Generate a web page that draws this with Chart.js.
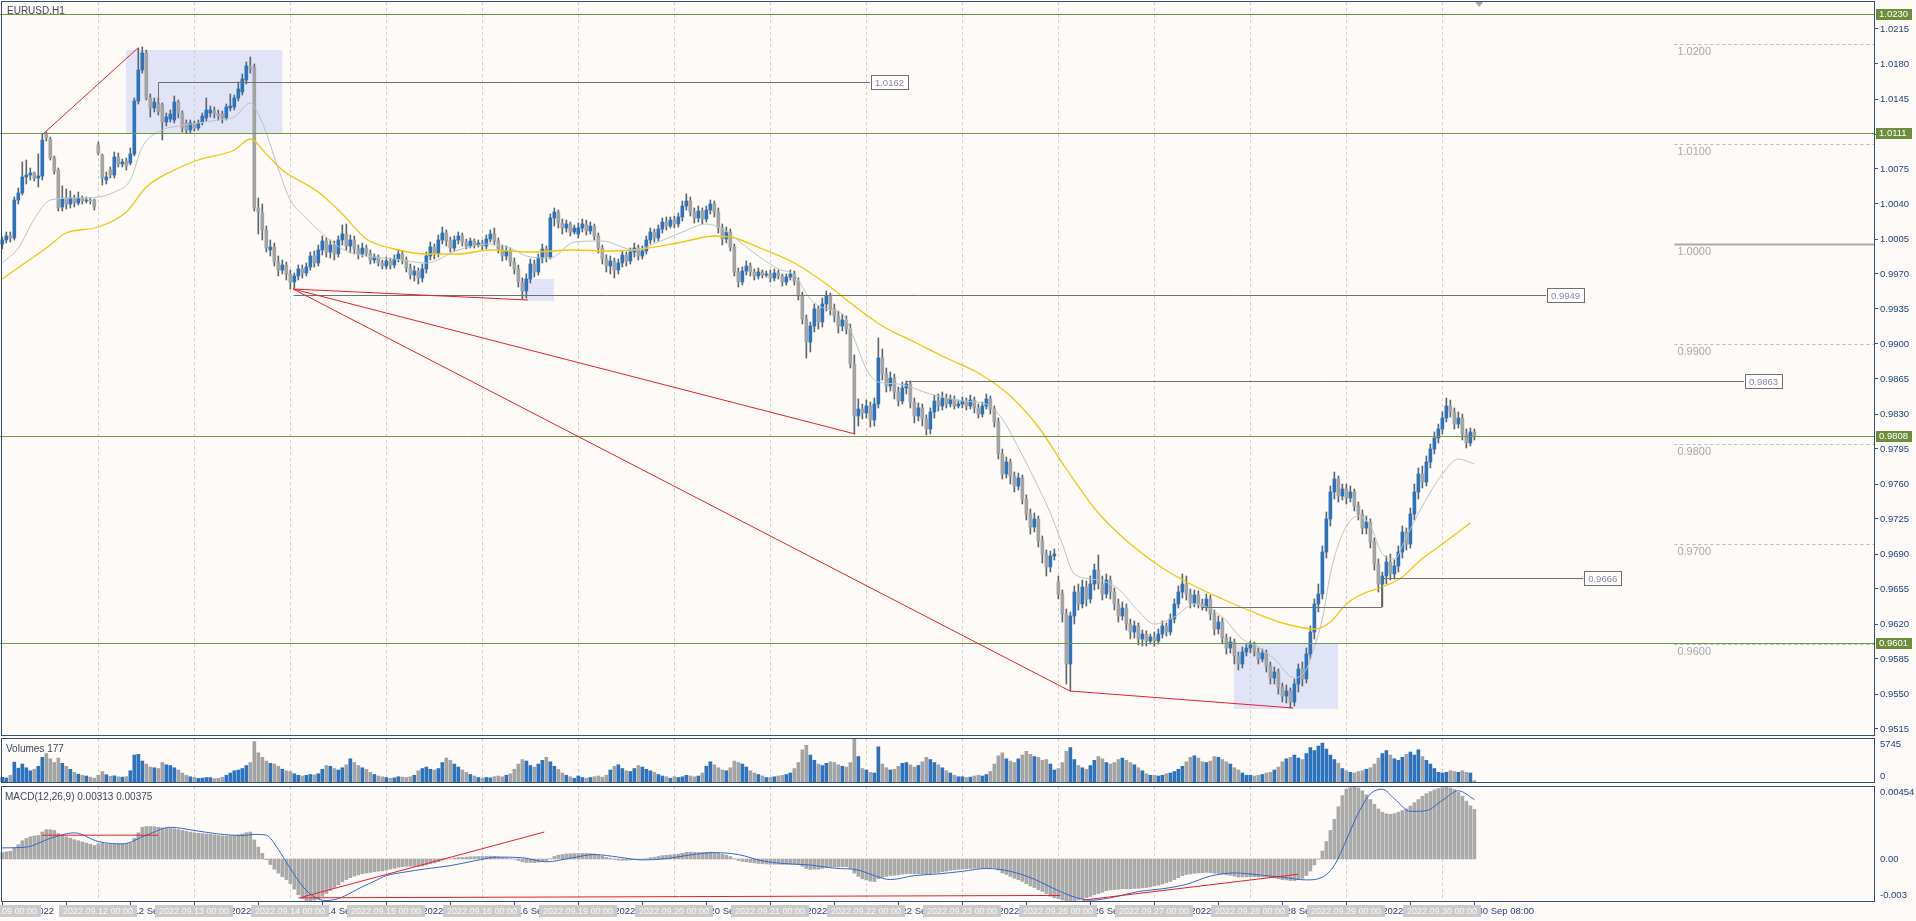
<!DOCTYPE html>
<html lang="en">
<head>
<meta charset="utf-8">
<title>EURUSD.H1</title>
<script src="https://cdn.jsdelivr.net/npm/chart.js@4.4.1/dist/chart.umd.min.js"></script>
<style>
  html, body { margin: 0; padding: 0; background: #fdfaf8; overflow: hidden; }
  #wrap { position: relative; width: 1916px; height: 921px; background: #fdfaf8; }
  #wrap canvas { position: absolute; left: 0; }
</style>
</head>
<body>
<div id="wrap">
  <canvas id="priceChart" width="1916" height="736" style="top:0"></canvas>
  <canvas id="volumeChart" width="1916" height="47" style="top:737px"></canvas>
  <canvas id="macdChart" width="1916" height="137" style="top:784px"></canvas>
</div>
<script>
// trading days shown (H1 bars, 24 per day)
const dayNames = ['9 Sep', '12 Sep', '13 Sep', '14 Sep', '15 Sep', '16 Sep', '19 Sep', '20 Sep',
                  '21 Sep', '22 Sep', '23 Sep', '26 Sep', '27 Sep', '28 Sep', '29 Sep', '30 Sep'];
const dayStamps = ['2022.09.09', '2022.09.12', '2022.09.13', '2022.09.14', '2022.09.15', '2022.09.16',
                   '2022.09.19', '2022.09.20', '2022.09.21', '2022.09.22', '2022.09.23', '2022.09.26',
                   '2022.09.27', '2022.09.28', '2022.09.29', '2022.09.30'];

const priceTicks = [1.0215, 1.0180, 1.0145, 1.0110, 1.0075, 1.0040, 1.0005, 0.9970, 0.9935, 0.9900, 0.9865,
                    0.9830, 0.9795, 0.9760, 0.9725, 0.9690, 0.9655, 0.9620, 0.9585, 0.9550, 0.9515];

const opens = [
  1.0000,1.0004,1.0008,1.0006,1.0044,1.0051,1.0067,1.0069,1.0071,1.0066,1.0068,1.0111,1.0105,1.0086,1.0074,1.0037,1.0046,1.0040,1.0046,1.0041,1.0046,1.0043,1.0044,1.0044,
  1.0099,1.0089,1.0064,1.0074,1.0069,1.0087,1.0080,1.0083,1.0081,1.0090,1.0143,1.0174,1.0191,1.0146,1.0136,1.0141,1.0139,1.0122,1.0125,1.0124,1.0142,1.0131,1.0121,1.0114,
  1.0120,1.0116,1.0122,1.0126,1.0131,1.0133,1.0130,1.0130,1.0126,1.0136,1.0137,1.0146,1.0152,1.0164,1.0178,1.0177,1.0036,1.0031,1.0014,0.9994,0.9997,0.9982,0.9974,0.9979,
  0.9970,0.9962,0.9968,0.9975,0.9971,0.9977,0.9988,0.9981,0.9994,1.0003,0.9992,0.9999,0.9990,1.0004,1.0010,0.9998,1.0004,0.9995,0.9990,0.9996,0.9991,0.9984,0.9987,0.9981,
  0.9978,0.9983,0.9979,0.9985,0.9990,0.9984,0.9976,0.9969,0.9973,0.9966,0.9975,0.9988,0.9997,0.9990,1.0004,1.0011,1.0003,0.9996,1.0004,1.0008,1.0002,0.9998,1.0003,0.9999,
  1.0001,0.9998,1.0005,1.0010,1.0003,0.9995,0.9988,0.9993,0.9982,0.9975,0.9962,0.9953,0.9965,0.9980,0.9972,0.9986,0.9995,0.9987,1.0026,1.0032,1.0021,1.0016,1.0020,1.0012,
  1.0010,1.0016,1.0020,1.0013,1.0018,1.0008,0.9996,0.9985,0.9978,0.9983,0.9974,0.9981,0.9989,0.9983,0.9992,0.9996,0.9988,0.9993,1.0004,1.0012,1.0006,1.0015,1.0022,1.0018,
  1.0024,1.0020,1.0027,1.0038,1.0043,1.0032,1.0026,1.0033,1.0025,1.0034,1.0040,1.0032,1.0016,1.0005,1.0012,0.9997,0.9972,0.9962,0.9973,0.9978,0.9972,0.9968,0.9972,0.9969,
  0.9970,0.9966,0.9971,0.9968,0.9962,0.9967,0.9970,0.9963,0.9948,0.9925,0.9902,0.9918,0.9935,0.9922,0.9940,0.9948,0.9935,0.9928,0.9918,0.9924,0.9915,0.9880,0.9828,0.9835,
  0.9831,0.9838,0.9824,0.9840,0.9886,0.9870,0.9858,0.9866,0.9852,0.9843,0.9856,0.9860,0.9842,0.9828,0.9836,0.9825,0.9815,0.9832,0.9843,0.9838,0.9846,0.9840,0.9845,0.9838,
  0.9840,0.9843,0.9838,0.9844,0.9836,0.9830,0.9838,0.9845,0.9835,0.9822,0.9790,0.9770,0.9782,0.9768,0.9758,0.9766,0.9745,0.9730,0.9717,0.9725,0.9703,0.9690,0.9677,0.9688,
  0.9662,0.9650,0.9630,0.9580,0.9628,0.9652,0.9640,0.9657,0.9645,0.9660,0.9674,0.9660,0.9650,0.9664,0.9652,0.9640,0.9628,0.9636,0.9620,0.9612,0.9618,0.9605,0.9610,0.9603,
  0.9607,0.9603,0.9610,0.9618,0.9612,0.9625,0.9640,0.9652,0.9660,0.9650,0.9641,0.9649,0.9640,0.9637,0.9645,0.9630,0.9615,0.9622,0.9606,0.9596,0.9602,0.9588,0.9580,0.9592,
  0.9596,0.9599,0.9592,0.9585,0.9591,0.9578,0.9566,0.9572,0.9557,0.9548,0.9553,0.9542,0.9560,0.9575,0.9565,0.9590,0.9612,0.9640,0.9650,0.9692,0.9725,0.9752,0.9765,0.9748,
  0.9755,0.9746,0.9752,0.9738,0.9730,0.9716,0.9722,0.9702,0.9680,0.9660,0.9668,0.9682,0.9670,0.9678,0.9692,0.9712,0.9700,0.9730,0.9752,0.9770,0.9762,0.9782,0.9795,0.9806,
  0.9815,0.9826,0.9838,0.9832,0.9820,0.9826,0.9810,0.9801,0.9812
];
const highs = [
  1.0007,1.0012,1.0012,1.0047,1.0056,1.0082,1.0084,1.0076,1.0072,1.0090,1.0110,1.0112,1.0107,1.0088,1.0076,1.0058,1.0055,1.0053,1.0049,1.0052,1.0048,1.0047,1.0046,1.0045,
  1.0102,1.0090,1.0072,1.0077,1.0092,1.0091,1.0085,1.0086,1.0096,1.0146,1.0196,1.0197,1.0194,1.0150,1.0146,1.0146,1.0141,1.0131,1.0134,1.0148,1.0144,1.0133,1.0124,1.0124,
  1.0123,1.0124,1.0131,1.0146,1.0138,1.0137,1.0134,1.0133,1.0140,1.0150,1.0149,1.0162,1.0170,1.0182,1.0187,1.0180,1.0046,1.0040,1.0018,1.0004,1.0001,0.9988,0.9984,0.9982,
  0.9974,0.9971,0.9979,0.9979,0.9981,0.9992,0.9993,0.9999,1.0008,1.0006,1.0004,1.0003,1.0008,1.0019,1.0020,1.0009,1.0008,0.9999,1.0001,0.9999,0.9994,0.9990,0.9989,0.9984,
  0.9987,0.9986,0.9989,0.9994,0.9993,0.9987,0.9980,0.9978,0.9976,0.9980,0.9992,1.0002,1.0000,1.0009,1.0017,1.0014,1.0007,1.0008,1.0012,1.0011,1.0005,1.0006,1.0005,1.0004,
  1.0004,1.0009,1.0014,1.0016,1.0006,0.9999,0.9998,0.9996,0.9986,0.9979,0.9966,0.9970,0.9985,0.9984,0.9990,1.0000,0.9998,1.0030,1.0036,1.0034,1.0025,1.0024,1.0022,1.0019,
  1.0021,1.0025,1.0024,1.0022,1.0020,1.0011,0.9999,0.9989,0.9988,0.9986,0.9985,0.9993,0.9992,0.9996,1.0001,0.9999,0.9998,1.0008,1.0016,1.0015,1.0019,1.0026,1.0027,1.0027,
  1.0028,1.0031,1.0043,1.0050,1.0047,1.0036,1.0038,1.0036,1.0038,1.0044,1.0043,1.0036,1.0020,1.0017,1.0015,1.0000,0.9976,0.9977,0.9983,0.9981,0.9975,0.9976,0.9974,0.9973,
  0.9974,0.9975,0.9974,0.9970,0.9970,0.9974,0.9973,0.9966,0.9952,0.9929,0.9922,0.9940,0.9938,0.9946,0.9953,0.9951,0.9940,0.9933,0.9930,0.9928,0.9920,0.9889,0.9845,0.9840,
  0.9844,0.9842,0.9846,0.9906,0.9895,0.9876,0.9872,0.9870,0.9857,0.9862,0.9863,0.9863,0.9846,0.9841,0.9840,0.9829,0.9836,0.9849,0.9850,0.9852,0.9850,0.9849,0.9848,0.9844,
  0.9847,0.9846,0.9849,0.9847,0.9840,0.9842,0.9850,0.9848,0.9838,0.9826,0.9795,0.9787,0.9785,0.9772,0.9771,0.9769,0.9749,0.9735,0.9731,0.9728,0.9708,0.9694,0.9693,0.9695,
  0.9668,0.9654,0.9635,0.9632,0.9658,0.9660,0.9664,0.9663,0.9668,0.9680,0.9689,0.9668,0.9670,0.9668,0.9656,0.9645,0.9642,0.9640,0.9625,0.9623,0.9621,0.9614,0.9613,0.9610,
  0.9612,0.9615,0.9623,0.9621,0.9630,0.9645,0.9658,0.9670,0.9668,0.9655,0.9654,0.9653,0.9645,0.9650,0.9649,0.9634,0.9628,0.9626,0.9610,0.9607,0.9605,0.9592,0.9597,0.9600,
  0.9603,0.9602,0.9596,0.9595,0.9594,0.9582,0.9577,0.9575,0.9561,0.9559,0.9556,0.9565,0.9580,0.9582,0.9596,0.9618,0.9645,0.9660,0.9698,0.9732,0.9758,0.9772,0.9768,0.9760,
  0.9760,0.9758,0.9755,0.9742,0.9734,0.9728,0.9725,0.9706,0.9685,0.9672,0.9688,0.9690,0.9684,0.9698,0.9718,0.9716,0.9736,0.9760,0.9776,0.9778,0.9788,0.9800,0.9812,0.9820,
  0.9832,0.9846,0.9844,0.9836,0.9832,0.9830,0.9815,0.9816,0.9815
];
const lows = [
  0.9995,1.0001,1.0002,1.0004,1.0040,1.0049,1.0060,1.0064,1.0063,1.0057,1.0064,1.0103,1.0084,1.0070,1.0033,1.0033,1.0035,1.0036,1.0037,1.0039,1.0040,1.0041,1.0040,1.0034,
  1.0089,1.0059,1.0060,1.0066,1.0066,1.0077,1.0077,1.0074,1.0079,1.0088,1.0140,1.0171,1.0144,1.0127,1.0132,1.0129,1.0104,1.0118,1.0122,1.0121,1.0126,1.0112,1.0111,1.0111,
  1.0113,1.0114,1.0119,1.0123,1.0127,1.0126,1.0124,1.0121,1.0124,1.0133,1.0134,1.0143,1.0149,1.0160,1.0171,1.0033,1.0010,1.0004,0.9992,0.9988,0.9978,0.9968,0.9970,0.9964,
  0.9955,0.9956,0.9964,0.9966,0.9968,0.9974,0.9977,0.9978,0.9989,0.9987,0.9986,0.9984,0.9987,0.9999,0.9994,0.9991,0.9990,0.9985,0.9987,0.9988,0.9980,0.9981,0.9978,0.9975,
  0.9975,0.9975,0.9976,0.9982,0.9980,0.9972,0.9965,0.9963,0.9960,0.9962,0.9971,0.9984,0.9985,0.9987,1.0000,0.9998,0.9992,0.9993,1.0000,0.9998,0.9995,0.9996,0.9996,0.9997,
  0.9994,0.9995,1.0002,0.9999,0.9991,0.9983,0.9984,0.9978,0.9970,0.9957,0.9945,0.9946,0.9961,0.9967,0.9969,0.9981,0.9982,0.9985,1.0018,1.0016,1.0010,1.0012,1.0008,1.0010,
  1.0006,1.0012,1.0009,1.0010,1.0004,0.9991,0.9980,0.9972,0.9970,0.9966,0.9970,0.9977,0.9978,0.9980,0.9987,0.9984,0.9985,0.9990,1.0000,1.0002,1.0003,1.0011,1.0014,1.0016,
  1.0016,1.0017,1.0023,1.0034,1.0028,1.0021,1.0022,1.0020,1.0022,1.0030,1.0027,1.0011,0.9999,1.0001,0.9993,0.9968,0.9957,0.9959,0.9969,0.9968,0.9964,0.9965,0.9966,0.9967,
  0.9962,0.9963,0.9965,0.9958,0.9959,0.9964,0.9959,0.9944,0.9920,0.9886,0.9892,0.9912,0.9915,0.9917,0.9933,0.9929,0.9922,0.9911,0.9913,0.9910,0.9876,0.9810,0.9818,0.9825,
  0.9826,0.9817,0.9818,0.9836,0.9864,0.9852,0.9853,0.9845,0.9838,0.9840,0.9850,0.9836,0.9821,0.9823,0.9818,0.9809,0.9810,0.9826,0.9833,0.9834,0.9836,0.9837,0.9835,0.9836,
  0.9836,0.9834,0.9835,0.9831,0.9826,0.9827,0.9835,0.9830,0.9817,0.9785,0.9765,0.9766,0.9760,0.9752,0.9754,0.9740,0.9724,0.9710,0.9712,0.9697,0.9681,0.9668,0.9672,0.9684,
  0.9645,0.9622,0.9560,0.9553,0.9620,0.9634,0.9636,0.9638,0.9641,0.9654,0.9655,0.9644,0.9646,0.9645,0.9634,0.9622,0.9624,0.9614,0.9605,0.9606,0.9599,0.9598,0.9598,0.9600,
  0.9598,0.9600,0.9606,0.9608,0.9609,0.9621,0.9636,0.9646,0.9644,0.9636,0.9637,0.9636,0.9634,0.9633,0.9624,0.9609,0.9610,0.9600,0.9590,0.9591,0.9580,0.9574,0.9576,0.9588,
  0.9591,0.9588,0.9580,0.9582,0.9572,0.9560,0.9560,0.9550,0.9542,0.9541,0.9536,0.9538,0.9552,0.9558,0.9561,0.9585,0.9605,0.9632,0.9645,0.9686,0.9718,0.9745,0.9742,0.9744,
  0.9740,0.9742,0.9733,0.9724,0.9710,0.9710,0.9696,0.9674,0.9652,0.9637,0.9660,0.9664,0.9665,0.9672,0.9686,0.9694,0.9696,0.9724,0.9745,0.9756,0.9758,0.9776,0.9790,0.9801,
  0.9810,0.9822,0.9827,0.9815,0.9816,0.9804,0.9796,0.9798,0.9804
];
const closes = [
  1.0004,1.0008,1.0006,1.0044,1.0051,1.0067,1.0069,1.0071,1.0066,1.0068,1.0104,1.0106,1.0086,1.0073,1.0036,1.0045,1.0040,1.0046,1.0041,1.0046,1.0043,1.0044,1.0043,1.0037,
  1.0091,1.0066,1.0067,1.0069,1.0087,1.0080,1.0082,1.0078,1.0090,1.0143,1.0174,1.0191,1.0146,1.0136,1.0142,1.0132,1.0122,1.0127,1.0130,1.0142,1.0131,1.0116,1.0114,1.0121,
  1.0116,1.0121,1.0128,1.0134,1.0134,1.0130,1.0128,1.0126,1.0137,1.0138,1.0146,1.0155,1.0165,1.0178,1.0175,1.0036,1.0032,1.0014,0.9996,0.9997,0.9982,0.9974,0.9979,0.9970,
  0.9962,0.9968,0.9975,0.9971,0.9977,0.9988,0.9981,0.9994,1.0003,0.9992,0.9999,0.9990,1.0004,1.0010,0.9998,1.0004,0.9995,0.9990,0.9996,0.9991,0.9984,0.9987,0.9981,0.9978,
  0.9983,0.9979,0.9985,0.9990,0.9984,0.9976,0.9969,0.9973,0.9966,0.9975,0.9988,0.9997,0.9990,1.0004,1.0011,1.0003,0.9996,1.0004,1.0008,1.0002,0.9998,1.0003,0.9999,1.0001,
  0.9998,1.0005,1.0010,1.0003,0.9995,0.9988,0.9993,0.9982,0.9975,0.9962,0.9953,0.9965,0.9980,0.9972,0.9986,0.9995,0.9987,1.0026,1.0032,1.0021,1.0016,1.0020,1.0012,1.0016,
  1.0016,1.0020,1.0013,1.0018,1.0008,0.9996,0.9985,0.9978,0.9983,0.9974,0.9981,0.9989,0.9983,0.9992,0.9996,0.9988,0.9993,1.0004,1.0012,1.0006,1.0015,1.0022,1.0018,1.0024,
  1.0020,1.0027,1.0038,1.0043,1.0032,1.0026,1.0033,1.0025,1.0034,1.0040,1.0032,1.0016,1.0005,1.0012,0.9997,0.9972,0.9962,0.9973,0.9978,0.9972,0.9968,0.9972,0.9969,0.9970,
  0.9966,0.9971,0.9968,0.9962,0.9967,0.9970,0.9963,0.9948,0.9925,0.9902,0.9918,0.9935,0.9922,0.9940,0.9948,0.9935,0.9928,0.9918,0.9924,0.9915,0.9880,0.9828,0.9835,0.9831,
  0.9838,0.9824,0.9840,0.9886,0.9870,0.9858,0.9866,0.9852,0.9843,0.9856,0.9860,0.9842,0.9828,0.9836,0.9825,0.9815,0.9832,0.9843,0.9838,0.9846,0.9840,0.9845,0.9838,0.9840,
  0.9843,0.9838,0.9844,0.9836,0.9830,0.9838,0.9845,0.9835,0.9822,0.9790,0.9770,0.9782,0.9768,0.9758,0.9766,0.9745,0.9730,0.9717,0.9725,0.9703,0.9690,0.9677,0.9688,0.9690,
  0.9650,0.9630,0.9580,0.9628,0.9652,0.9640,0.9657,0.9645,0.9660,0.9674,0.9660,0.9650,0.9664,0.9652,0.9640,0.9628,0.9636,0.9620,0.9612,0.9618,0.9605,0.9610,0.9603,0.9607,
  0.9603,0.9610,0.9618,0.9612,0.9625,0.9640,0.9652,0.9660,0.9650,0.9641,0.9649,0.9640,0.9637,0.9645,0.9630,0.9615,0.9622,0.9606,0.9596,0.9602,0.9588,0.9580,0.9592,0.9596,
  0.9599,0.9592,0.9585,0.9591,0.9578,0.9566,0.9572,0.9557,0.9548,0.9553,0.9542,0.9560,0.9575,0.9565,0.9590,0.9612,0.9640,0.9650,0.9692,0.9725,0.9752,0.9765,0.9748,0.9755,
  0.9746,0.9752,0.9738,0.9730,0.9716,0.9722,0.9702,0.9680,0.9660,0.9668,0.9682,0.9670,0.9678,0.9692,0.9712,0.9700,0.9730,0.9752,0.9770,0.9762,0.9782,0.9795,0.9806,0.9815,
  0.9826,0.9838,0.9832,0.9820,0.9826,0.9810,0.9801,0.9812,0.9808
];

// tick volumes per bar
const volumes = [
  620,540,880,2650,1850,2400,1900,1500,1700,2100,3300,3800,3100,2600,3200,2500,2100,1700,1300,1050,900,800,650,520,
  900,1400,980,760,820,700,650,720,1500,3600,3700,2800,2400,2000,1900,1800,2600,2300,2200,1900,1600,1200,900,700,
  620,480,520,600,580,450,500,640,900,1200,1500,1600,1800,2200,2600,5400,3900,3300,2800,2500,2400,2100,1700,1500,
  1400,1100,900,800,900,1000,950,1100,1700,2200,2100,1800,1600,1900,2300,3100,2600,2200,1900,1700,1300,1000,800,700,
  600,500,550,700,650,600,700,900,1500,1800,2000,1700,1600,1800,2600,3200,2900,2400,2000,1600,1300,1000,800,600,
  500,600,550,700,800,700,900,1100,1700,2400,3000,2800,2200,2000,2400,2900,3300,2700,2100,1700,1200,900,700,500,
  800,600,500,600,700,800,650,900,1600,2100,2300,1800,1500,1400,1800,2200,2000,1700,1500,1300,1000,800,700,500,
  700,600,700,900,800,700,800,1200,2100,2700,2300,1900,1600,1500,1900,2800,2600,2400,2000,1500,1200,1000,800,600,
  600,700,800,900,1000,1200,1800,2600,4300,4900,3600,2900,2400,2200,2500,2700,2600,2300,2100,2000,2600,5745,3400,1800,
  1600,1300,1200,4700,2400,1900,1600,1700,2100,2500,2600,2300,2000,2200,2700,3300,3000,2600,2300,1900,1500,1200,900,700,
  700,600,650,800,900,800,1000,1400,2400,3500,3900,3100,2800,2600,3100,3600,4100,3700,3400,3300,2900,3000,2400,1600,
  1800,2600,4100,4600,3000,2200,1900,1700,2200,2900,3400,3100,2600,2400,2600,3000,3200,2900,2600,2300,1900,1500,1100,900,
  900,800,900,1100,1200,1400,1700,2100,2700,3300,3500,3200,2700,2600,2800,3400,3300,3000,2700,2400,1900,1600,1200,900,
  900,800,900,1000,1200,1300,1600,2000,2700,3100,3300,3600,3200,3000,3800,4600,4200,4800,5200,4400,3600,3000,2500,1800,
  1500,1300,1200,1400,1500,1700,1900,2400,3200,3800,4200,3600,3100,2900,3300,3700,4000,3600,4300,3400,2900,2400,1800,1300,
  1200,1300,1500,1400,1300,1500,1300,1200,177
];

// MACD(12,26,9) main line per bar, in units of 0.00001
const macdMain = [
  40,45,48,70,90,115,130,140,145,148,170,185,185,180,160,150,140,132,122,115,108,100,93,85,
  95,100,95,92,95,96,97,96,100,130,165,200,205,205,203,200,196,193,192,190,186,180,175,170,
  165,162,160,158,156,152,148,145,145,145,148,152,158,166,170,120,75,35,-5,-35,-65,-90,-112,-130,
  -155,-190,-225,-250,-262,-265,-260,-250,-236,-218,-198,-180,-162,-145,-130,-118,-108,-100,-93,-88,-84,-80,-77,-75,
  -70,-64,-58,-52,-48,-46,-46,-46,-47,-44,-38,-30,-25,-17,-8,-2,1,5,8,10,12,14,15,16,
  16,17,18,17,14,10,7,3,-2,-10,-18,-22,-22,-23,-20,-15,-12,2,16,24,28,32,33,34,
  34,35,35,34,32,26,18,10,4,-3,-7,-8,-8,-6,-4,-4,-3,2,8,11,16,21,23,26,
  27,30,36,42,43,42,41,41,42,43,42,37,29,24,15,2,-10,-15,-18,-22,-25,-28,-30,-31,
  -33,-33,-33,-34,-33,-32,-33,-36,-46,-60,-66,-64,-64,-60,-54,-51,-50,-50,-48,-49,-60,-90,-110,-125,
  -132,-140,-142,-125,-115,-110,-104,-102,-100,-96,-92,-92,-94,-93,-95,-97,-94,-88,-85,-80,-76,-72,-69,-66,
  -64,-62,-60,-59,-59,-58,-56,-55,-57,-70,-88,-98,-110,-122,-130,-142,-156,-170,-180,-194,-205,-218,-235,-245,
  -250,-258,-270,-268,-262,-258,-250,-244,-236,-226,-218,-210,-200,-195,-192,-190,-188,-188,-188,-186,-185,-182,-180,-176,
  -170,-165,-158,-150,-142,-130,-118,-105,-98,-94,-90,-88,-86,-84,-86,-90,-91,-95,-100,-103,-108,-114,-114,-113,
  -112,-112,-113,-112,-114,-118,-120,-125,-130,-132,-136,-136,-130,-122,-104,-76,-38,-2,50,110,180,250,330,400,
  440,450,454,448,430,405,375,345,315,295,285,282,286,295,306,316,334,355,375,395,412,425,436,444,
  450,452,448,438,420,395,365,335,313
];
// signal line, read at [bar, value x 0.00001]
const macdSignal = [
  [0,70],[6,75],[12,130],[18,165],[24,110],[30,95],[36,150],[42,200],[48,180],[54,158],[60,148],[63,155],
  [66,150],[69,60],[72,-60],[75,-170],[78,-240],[81,-262],[84,-250],[87,-215],[90,-175],[93,-140],[96,-105],
  [100,-85],[106,-62],[112,-42],[118,-12],[124,12],[130,8],[136,-18],[142,5],[148,28],[154,12],[160,-6],
  [166,2],[172,26],[178,40],[184,28],[190,-12],[196,-30],[202,-38],[208,-58],[214,-70],[218,-105],[222,-130],
  [228,-105],[234,-94],[240,-78],[246,-60],[252,-78],[258,-128],[264,-200],[268,-240],[272,-260],[278,-240],
  [284,-205],[290,-188],[296,-160],[302,-108],[308,-88],[314,-100],[320,-115],[326,-132],[330,-115],[333,-40],
  [336,120],[339,290],[342,410],[345,440],[348,380],[352,300],[356,305],[360,370],[364,430],[368,375]
];

// moving averages read at [bar, price]
const fastMa = [
  [0,0.9981],[4,0.9996],[8,1.0025],[12,1.0044],[18,1.0046],[24,1.0047],[28,1.0052],[32,1.0064],[35,1.0097],
  [40,1.0114],[44,1.0118],[49,1.0121],[54,1.0124],[58,1.0127],[62,1.0141],[64,1.0130],[66,1.0111],[69,1.0075],
  [72,1.0044],[76,1.0026],[79,1.0014],[85,0.9995],[91,0.9988],[98,0.9985],[106,0.9981],[114,0.9994],[122,1.0000],
  [128,0.9994],[131,0.9988],[137,0.9986],[143,1.0002],[150,1.0003],[158,0.9994],[164,1.0002],[170,1.0012],
  [176,1.0020],[180,1.0015],[185,1.0000],[189,0.9988],[194,0.9975],[198,0.9969],[202,0.9945],[206,0.9935],
  [210,0.9930],[213,0.9905],[216,0.9875],[219,0.9862],[224,0.9860],[232,0.9850],[240,0.9843],[246,0.9840],
  [250,0.9825],[253,0.9804],[258,0.9765],[262,0.9731],[265,0.9700],[268,0.9670],[274,0.9664],[279,0.9655],
  [284,0.9633],[288,0.9620],[293,0.9627],[298,0.9640],[305,0.9627],[310,0.9605],[314,0.9597],[318,0.9585],
  [323,0.9566],[326,0.9575],[328,0.9597],[330,0.9625],[332,0.9670],[335,0.9710],[339,0.9728],[342,0.9718],
  [345,0.9690],[348,0.9685],[351,0.9707],[355,0.9738],[360,0.9770],[364,0.9785],[368,0.9780]
];
const slowMa = [
  [0,0.9965],[6,0.9982],[11,0.9996],[16,1.0011],[24,1.0017],[31,1.0032],[36,1.0057],[43,1.0074],[49,1.0084],
  [58,1.0094],[62,1.0105],[66,1.0090],[70,1.0074],[79,1.0052],[85,1.0030],[91,1.0005],[98,0.9995],[106,0.9990],
  [114,0.9990],[122,0.9994],[132,0.9992],[143,0.9994],[152,0.9993],[160,0.9995],[170,1.0002],[178,1.0008],
  [183,1.0006],[190,0.9995],[198,0.9981],[206,0.9960],[213,0.9938],[220,0.9918],[228,0.9902],[236,0.9886],
  [244,0.9871],[252,0.9848],[259,0.9817],[266,0.9775],[274,0.9731],[282,0.9700],[290,0.9676],[298,0.9658],
  [305,0.9645],[312,0.9633],[320,0.9621],[328,0.9615],[332,0.9622],[336,0.9640],[340,0.9650],[345,0.9657],
  [350,0.9667],[354,0.9682],[360,0.9700],[367,0.9721]
];

const keyLevels = [1.0230, 1.0111, 0.9808, 0.9601];
const roundLevels = [1.0200, 1.0100, 1.0000, 0.9900, 0.9800, 0.9700, 0.9600];

// drawn objects, anchored at [bar, price]
const zones = [
  { from: 30.9, to: 70.0, hi: 1.0194, lo: 1.0111 },
  { from: 130.2, to: 137.9, hi: 0.9965, lo: 0.9943 },
  { from: 307.9, to: 333.9, hi: 0.9600, lo: 0.9535 }
];
const trendLines = [
  [10.2, 1.0110, 33.9, 1.0196],
  [72.7, 0.9955, 131.4, 0.9944],
  [72.7, 0.9955, 213.2, 0.9810],
  [72.7, 0.9955, 266.9, 0.9553],
  [266.9, 0.9553, 322.7, 0.9536]
];
const markLevels = [
  { price: 1.0162, from: 38.9, to: 216.9, stem: 1.0141 },
  { price: 0.9949, from: 72.7, to: 385.9 },
  { price: 0.9863, from: 225.7, to: 435.4 },
  { price: 0.9666, from: 344.7, to: 395.2, stem: 0.9637, stemFrom: 299.7 }
];
const macdLines = [
  [10, 0.0015, 39, 0.0015],
  [75, -0.0024, 135.5, 0.0017],
  [74, -0.00245, 264.5, -0.0023],
  [270, -0.0026, 324, -0.00096]
];

const X_MIN = -0.575, X_MAX = 467.9;
const UP = '#2c72bd', DOWN = '#a3a3a3', WICK = '#5b676e';
const FRAME = '#34506f', AXIS_TEXT = '#24457a';
const FONT = '"Liberation Sans", Arial, sans-serif';

Chart.defaults.font.family = FONT;
Chart.defaults.animation = false;

function isUp(i) {
    return closes[i] >= opens[i];
}

function tickLabel(bar) {
    const d = Math.floor(bar / 24);
    const h = bar % 24;
    if (h === 0) return dayNames[d] + ' 2022';
    return dayNames[d] + ' ' + (h < 10 ? '0' : '') + h + ':00';
}

function xAxis() {
    return { type: 'linear', min: X_MIN, max: X_MAX, display: false, offset: false };
}

// right axis of fixed width, no extra room reserved for the end labels
function fixAxis(s) {
    s.width = 42;
    s.paddingTop = 0;
    s.paddingBottom = 0;
}

function clipArea(ctx, a) {
    ctx.beginPath();
    ctx.rect(a.left, a.top, a.right - a.left, a.bottom - a.top);
    ctx.clip();
}

function drawDayGrid(chart) {
    const { ctx, chartArea: a, scales: { x } } = chart;
    ctx.save();
    ctx.strokeStyle = '#cfcfcf';
    ctx.lineWidth = 1;
    ctx.setLineDash([3, 3]);
    for (let d = 1; d < dayNames.length; d++) {
        const px = Math.round(x.getPixelForValue(d * 24)) + 0.5;
        ctx.beginPath();
        ctx.moveTo(px, a.top);
        ctx.lineTo(px, a.bottom);
        ctx.stroke();
    }
    ctx.restore();
}

function drawFrame(chart) {
    const { ctx, chartArea: a } = chart;
    ctx.save();
    ctx.strokeStyle = FRAME;
    ctx.lineWidth = 1;
    ctx.strokeRect(1.5, a.top - 0.5, a.right - 1, a.bottom - a.top + 1);
    ctx.restore();
}

function drawSegments(chart, segs, color) {
    const { ctx, chartArea: a, scales: { x, y } } = chart;
    ctx.save();
    clipArea(ctx, a);
    ctx.strokeStyle = color;
    ctx.lineWidth = 1;
    segs.forEach(s => {
        ctx.beginPath();
        ctx.moveTo(x.getPixelForValue(s[0]), y.getPixelForValue(s[1]));
        ctx.lineTo(x.getPixelForValue(s[2]), y.getPixelForValue(s[3]));
        ctx.stroke();
    });
    ctx.restore();
}

const priceOverlay = {
    id: 'priceOverlay',
    beforeDatasetsDraw(chart) {
        const { ctx, chartArea: a, scales: { x, y } } = chart;
        ctx.save();
        clipArea(ctx, a);
        ctx.fillStyle = '#e1e3f7';
        zones.forEach(z => {
            const x1 = x.getPixelForValue(z.from), x2 = x.getPixelForValue(z.to);
            const y1 = y.getPixelForValue(z.hi), y2 = y.getPixelForValue(z.lo);
            ctx.fillRect(x1, y1, x2 - x1, y2 - y1);
        });
        ctx.restore();
        drawDayGrid(chart);

        // round number levels at the right side
        ctx.save();
        clipArea(ctx, a);
        ctx.font = '11px ' + FONT;
        ctx.textBaseline = 'middle';
        const startX = x.getPixelForValue(418);
        roundLevels.forEach(p => {
            const yy = Math.round(y.getPixelForValue(p)) + 0.5;
            ctx.beginPath();
            if (p === 1.0) {
                ctx.setLineDash([]);
                ctx.lineWidth = 2;
                ctx.strokeStyle = '#a9a9a9';
            } else {
                ctx.setLineDash([3, 3]);
                ctx.lineWidth = 1;
                ctx.strokeStyle = '#b8b8b8';
            }
            ctx.moveTo(startX, yy);
            ctx.lineTo(a.right, yy);
            ctx.stroke();
            ctx.fillStyle = '#aaaaaa';
            ctx.fillText(p.toFixed(4), startX + 3, yy + 7.5);
        });
        ctx.restore();
    },
    afterDatasetsDraw(chart) {
        const { ctx, chartArea: a, scales: { x, y } } = chart;
        ctx.save();
        clipArea(ctx, a);
        ctx.strokeStyle = '#6f9a3f';
        ctx.lineWidth = 1;
        keyLevels.forEach(p => {
            const yy = Math.round(y.getPixelForValue(p)) + 0.5;
            ctx.beginPath();
            ctx.moveTo(a.left, yy);
            ctx.lineTo(a.right, yy);
            ctx.stroke();
        });

        ctx.strokeStyle = '#707070';
        ctx.font = '9.5px ' + FONT;
        ctx.textBaseline = 'middle';
        markLevels.forEach(l => {
            const yy = Math.round(y.getPixelForValue(l.price)) + 0.5;
            const x1 = Math.round(x.getPixelForValue(l.from)) + 0.5;
            const x2 = x.getPixelForValue(l.to);
            ctx.beginPath();
            ctx.moveTo(x1, yy);
            ctx.lineTo(x2, yy);
            if (l.stem) {
                const ys = Math.round(y.getPixelForValue(l.stem)) + 0.5;
                ctx.moveTo(x1, yy);
                ctx.lineTo(x1, ys);
                if (l.stemFrom !== undefined) ctx.lineTo(x.getPixelForValue(l.stemFrom), ys);
            }
            ctx.stroke();
            const text = l.price.toFixed(4);
            const w = Math.round(ctx.measureText(text).width) + 8;
            ctx.fillStyle = '#ffffff';
            ctx.fillRect(x2 + 1, yy - 7, w, 14);
            ctx.strokeRect(Math.round(x2) + 1.5, yy - 7, w, 14);
            ctx.fillStyle = '#8a86a6';
            ctx.fillText(text, x2 + 5, yy + 0.5);
        });
        ctx.restore();

        drawSegments(chart, trendLines, '#e8202a');
    },
    afterDraw(chart) {
        const { ctx, chartArea: a, scales: { x, y } } = chart;
        drawFrame(chart);
        ctx.save();
        ctx.font = '9.5px ' + FONT;
        ctx.textBaseline = 'middle';
        keyLevels.forEach(p => {
            const yy = y.getPixelForValue(p);
            ctx.fillStyle = '#6c8e3b';
            ctx.fillRect(a.right + 2, Math.round(yy) - 5, 36, 11);
            ctx.fillStyle = '#ffffff';
            ctx.fillText(p.toFixed(4), a.right + 5, yy + 0.5);
        });
        ctx.fillStyle = '#3f4b5c';
        ctx.font = '10px ' + FONT;
        ctx.fillText('EURUSD.H1', 7, 11);
        // chart shift marker
        const sx = x.getPixelForValue(closes.length + 0.2);
        ctx.fillStyle = '#a8a8a8';
        ctx.beginPath();
        ctx.moveTo(sx - 4, 2);
        ctx.lineTo(sx + 4, 2);
        ctx.lineTo(sx, 7);
        ctx.closePath();
        ctx.fill();
        ctx.restore();
    }
};

function createPriceChart() {
    const bodies = opens.map((o, i) => ({ x: i, y: [Math.min(o, closes[i]), Math.max(o, closes[i])] }));
    const wicks = lows.map((l, i) => ({ x: i, y: [l, highs[i]] }));
    new Chart(document.getElementById('priceChart'), {
        type: 'bar',
        data: {
            datasets: [
                {
                    type: 'line', label: 'fast MA', order: 0,
                    data: fastMa.map(p => ({ x: p[0], y: p[1] })),
                    borderColor: '#b7c6c6', borderWidth: 1, pointRadius: 0, cubicInterpolationMode: 'monotone'
                },
                {
                    type: 'line', label: 'slow MA', order: 0,
                    data: slowMa.map(p => ({ x: p[0], y: p[1] })),
                    borderColor: '#f4c60c', borderWidth: 1.3, pointRadius: 0, cubicInterpolationMode: 'monotone'
                },
                {
                    label: 'body', order: 1, data: bodies, grouped: false,
                    backgroundColor: opens.map((o, i) => isUp(i) ? UP : DOWN),
                    barThickness: 3, minBarLength: 1
                },
                {
                    label: 'wick', order: 2, data: wicks, grouped: false,
                    backgroundColor: WICK, barThickness: 1
                }
            ]
        },
        options: {
            responsive: false,
            events: [],
            layout: { padding: { top: 2, bottom: 1, left: 0, right: 0 } },
            plugins: { legend: { display: false }, tooltip: { enabled: false } },
            scales: {
                x: xAxis(),
                y: {
                    position: 'right',
                    min: 0.9509,
                    max: 1.0242,
                    afterBuildTicks: s => { s.ticks = priceTicks.map(v => ({ value: v })); },
                    afterFit: fixAxis,
                    grid: { drawOnChartArea: false, drawTicks: true, tickLength: 4, color: FRAME },
                    border: { display: true, color: FRAME },
                    ticks: {
                        autoSkip: false, padding: 2, color: AXIS_TEXT,
                        font: { size: 9.5, family: FONT },
                        callback: v => Number(v).toFixed(4)
                    }
                }
            }
        },
        plugins: [priceOverlay]
    });
}

const volumeOverlay = {
    id: 'volumeOverlay',
    beforeDatasetsDraw(chart) {
        drawDayGrid(chart);
    },
    afterDraw(chart) {
        const { ctx, chartArea: a } = chart;
        drawFrame(chart);
        ctx.save();
        ctx.textBaseline = 'middle';
        ctx.font = '10px ' + FONT;
        ctx.fillStyle = '#3f4b5c';
        ctx.fillText('Volumes ' + volumes[volumes.length - 1], 6, 12);
        ctx.font = '9.5px ' + FONT;
        ctx.fillStyle = AXIS_TEXT;
        ctx.fillText(String(Math.max(...volumes)), a.right + 6, a.top + 5);
        ctx.fillText('0', a.right + 6, a.bottom - 6);
        ctx.restore();
    }
};

function createVolumeChart() {
    new Chart(document.getElementById('volumeChart'), {
        type: 'bar',
        data: {
            datasets: [{
                label: 'Volumes', grouped: false,
                data: volumes.map((v, i) => ({ x: i, y: v })),
                backgroundColor: volumes.map((v, i) => isUp(i) ? UP : DOWN),
                barThickness: 3
            }]
        },
        options: {
            responsive: false,
            events: [],
            layout: { padding: { top: 2, bottom: 2, left: 0, right: 0 } },
            plugins: { legend: { display: false }, tooltip: { enabled: false } },
            scales: {
                x: xAxis(),
                y: {
                    position: 'right', min: 0, max: Math.max(...volumes),
                    afterFit: fixAxis,
                    grid: { display: false },
                    border: { display: true, color: FRAME },
                    ticks: { display: false }
                }
            }
        },
        plugins: [volumeOverlay]
    });
}

const macdOverlay = {
    id: 'macdOverlay',
    beforeDatasetsDraw(chart) {
        drawDayGrid(chart);
    },
    afterDatasetsDraw(chart) {
        drawSegments(chart, macdLines, '#e8202a');
    },
    afterDraw(chart) {
        const { ctx, chartArea: a, scales: { x, y } } = chart;
        drawFrame(chart);
        ctx.save();
        ctx.textBaseline = 'middle';
        ctx.font = '10px ' + FONT;
        ctx.fillStyle = '#3f4b5c';
        const lastMain = macdMain[macdMain.length - 1] / 100000;
        const lastSignal = macdSignal[macdSignal.length - 1][1] / 100000;
        ctx.fillText('MACD(12,26,9) ' + lastMain.toFixed(5) + ' ' + lastSignal.toFixed(5), 5, 13);

        ctx.font = '9.5px ' + FONT;
        ctx.fillStyle = AXIS_TEXT;
        ctx.fillText((Math.max(...macdMain) / 100000).toFixed(5), a.right + 6, a.top + 5);
        ctx.fillText('0.00', a.right + 6, y.getPixelForValue(0));
        ctx.fillText('-0.003', a.right + 6, a.bottom - 6);

        // time axis: tick labels every 16 bars, then the day separator stamps over them
        ctx.strokeStyle = FRAME;
        ctx.lineWidth = 1;
        for (let b = 0; b < closes.length; b += 16) {
            const px = Math.round(x.getPixelForValue(b)) + 0.5;
            ctx.beginPath();
            ctx.moveTo(px, a.bottom);
            ctx.lineTo(px, a.bottom + 4);
            ctx.stroke();
            ctx.fillText(tickLabel(b), px + 3, a.bottom + 10);
        }
        ctx.font = '9px ' + FONT;
        for (let d = 0; d < dayStamps.length; d++) {
            const px = x.getPixelForValue(d * 24);
            const text = dayStamps[d] + ' 00:00';
            const w = Math.round(ctx.measureText(text).width) + 8;
            ctx.fillStyle = '#cbcbcb';
            ctx.fillRect(Math.round(px - w / 2), a.bottom + 4, w, 12);
            ctx.fillStyle = '#f7f7f7';
            ctx.fillText(text, Math.round(px - w / 2) + 4, a.bottom + 10.5);
        }
        ctx.restore();
    }
};

function createMacdChart() {
    new Chart(document.getElementById('macdChart'), {
        type: 'bar',
        data: {
            datasets: [
                {
                    type: 'line', label: 'Signal', order: 0,
                    data: macdSignal.map(p => ({ x: p[0], y: p[1] / 100000 })),
                    borderColor: '#3466c6', borderWidth: 1, pointRadius: 0, cubicInterpolationMode: 'monotone'
                },
                {
                    label: 'MACD', order: 1, grouped: false,
                    data: macdMain.map((v, i) => ({ x: i, y: v / 100000 })),
                    backgroundColor: '#a9a9a9', barThickness: 3
                }
            ]
        },
        options: {
            responsive: false,
            events: [],
            layout: { padding: { top: 3, bottom: 20, left: 0, right: 0 } },
            plugins: { legend: { display: false }, tooltip: { enabled: false } },
            scales: {
                x: xAxis(),
                y: {
                    position: 'right', min: -0.00265, max: 0.00454,
                    afterFit: fixAxis,
                    grid: { display: false },
                    border: { display: true, color: FRAME },
                    ticks: { display: false }
                }
            }
        },
        plugins: [macdOverlay]
    });
}

document.addEventListener('DOMContentLoaded', function() {
    if (typeof Chart === 'undefined') {
        console.error('Chart.js is not loaded.');
        return;
    }
    console.log('bars', opens.length, highs.length, lows.length, closes.length, volumes.length, macdMain.length);
    createPriceChart();
    createVolumeChart();
    createMacdChart();
});
</script>
</body>
</html>
